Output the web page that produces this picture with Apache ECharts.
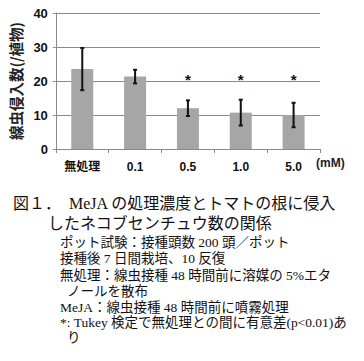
<!DOCTYPE html>
<html><head><meta charset="utf-8">
<script src="https://cdn.jsdelivr.net/npm/echarts@6/dist/echarts.min.js"></script>
<style>html,body{margin:0;padding:0;background:#fff}#c{width:364px;height:361px}</style>
</head><body><div id="c"></div>
<script>
const categories = ['無処理', '0.1', '0.5', '1.0', '5.0'];
const means = [23.5, 21.3, 12.0, 10.7, 10.0];
const errors = [6.2, 2.0, 2.3, 3.8, 3.6];
const significant = ['', '', '*', '*', '*'];
const yTicks = [0, 10, 20, 30, 40];
const yTitle = '線虫侵入数(/植物)';
const unitLabel = '(mM)';
const captionLines = [
  '図１．　MeJA の処理濃度とトマトの根に侵入',
  'したネコブセンチュウ数の関係',
  'ポット試験：接種頭数 200 頭／ポット',
  '接種後 7 日間栽培、10 反復',
  '無処理：線虫接種 48 時間前に溶媒の 5%エタ',
  'ノールを散布',
  'MeJA：線虫接種 48 時間前に噴霧処理',
  '*: Tukey 検定で無処理との間に有意差(p<0.01)あ',
  'り'
];

const FONT = '"Liberation Sans", "Noto Sans CJK JP", sans-serif';
const CJK = '"Noto Sans CJK JP", sans-serif';
const CAP = '"Liberation Serif", "Noto Sans CJK JP", serif';
const chart = echarts.init(document.getElementById('c'), null, {renderer: 'svg'});

const capX = [13, 48, 60, 60, 60, 67, 60, 60, 67];
const capY = [203, 223, 242, 258, 275, 291, 307, 322, 337];
const capSize = [16, 16, 13.5, 13.5, 13.5, 13.5, 13.5, 13.5, 13.5];
const capLH = [17, 17, 14, 14, 14, 14, 14, 14, 14];

const graphics = captionLines.map((t, i) => ({
  type: 'text', left: capX[i], top: capY[i] - capLH[i] / 2,
  style: {text: t, font: `${capSize[i]}px ${CAP}`, lineHeight: capLH[i], fill: '#111'}
}));
graphics.push({
  type: 'text', left: 316, top: 156,
  style: {text: unitLabel, font: `bold 12px ${FONT}`, lineHeight: 13, fill: '#222'}
});

chart.setOption({
  animation: false,
  grid: {left: 50, right: 44, top: 13, bottom: 212},
  xAxis: {
    type: 'category', data: categories,
    axisLine: {lineStyle: {color: '#8a8a8a', width: 1}},
    axisTick: {show: true, length: 4, lineStyle: {color: '#8a8a8a'}},
    axisLabel: {margin: 12, color: '#111', fontWeight: 'bold', fontSize: 12, fontFamily: FONT}
  },
  yAxis: {
    type: 'value', min: yTicks[0], max: yTicks[yTicks.length - 1], interval: 10,
    name: yTitle, nameLocation: 'middle', nameRotate: 90, nameGap: 22,
    nameTextStyle: {fontWeight: 'bold', fontSize: 14.5, color: '#222', fontFamily: CJK},
    axisLine: {show: true, lineStyle: {color: '#8a8a8a'}},
    axisTick: {show: true, inside: false, length: 3, lineStyle: {color: '#8a8a8a'}},
    axisLabel: {margin: 8, color: '#111', fontWeight: 'bold', fontSize: 13, fontFamily: FONT},
    splitLine: {lineStyle: {color: '#8a8a8a', width: 1}}
  },
  series: [
    {
      type: 'bar', data: means, barWidth: 22,
      itemStyle: {color: '#a6a6a6'}
    },
    {
      type: 'custom',
      data: means.map((m, i) => [i, m - errors[i], m + errors[i]]),
      renderItem: function (params, api) {
        const lo = api.coord([api.value(0), api.value(1)]);
        const hi = api.coord([api.value(0), api.value(2)]);
        const cap = 2;
        const st = {stroke: '#111', lineWidth: 2};
        return {type: 'group', children: [
          {type: 'line', shape: {x1: lo[0], y1: lo[1], x2: hi[0], y2: hi[1]}, style: st},
          {type: 'line', shape: {x1: lo[0] - cap, y1: lo[1], x2: lo[0] + cap, y2: lo[1]}, style: st},
          {type: 'line', shape: {x1: hi[0] - cap, y1: hi[1], x2: hi[0] + cap, y2: hi[1]}, style: st}
        ]};
      },
      z: 5
    },
    {
      type: 'custom',
      data: significant.map((s, i) => [i, 20.3, s]),
      renderItem: function (params, api) {
        const p = api.coord([api.value(0), api.value(1)]);
        const s = significant[params.dataIndex];
        return {type: 'text', x: p[0], y: p[1], style: {
          text: s, font: `bold 15px ${FONT}`, fill: '#111', align: 'center', verticalAlign: 'middle'
        }};
      },
      z: 6
    }
  ],
  graphic: graphics
});
</script>
</body></html>
